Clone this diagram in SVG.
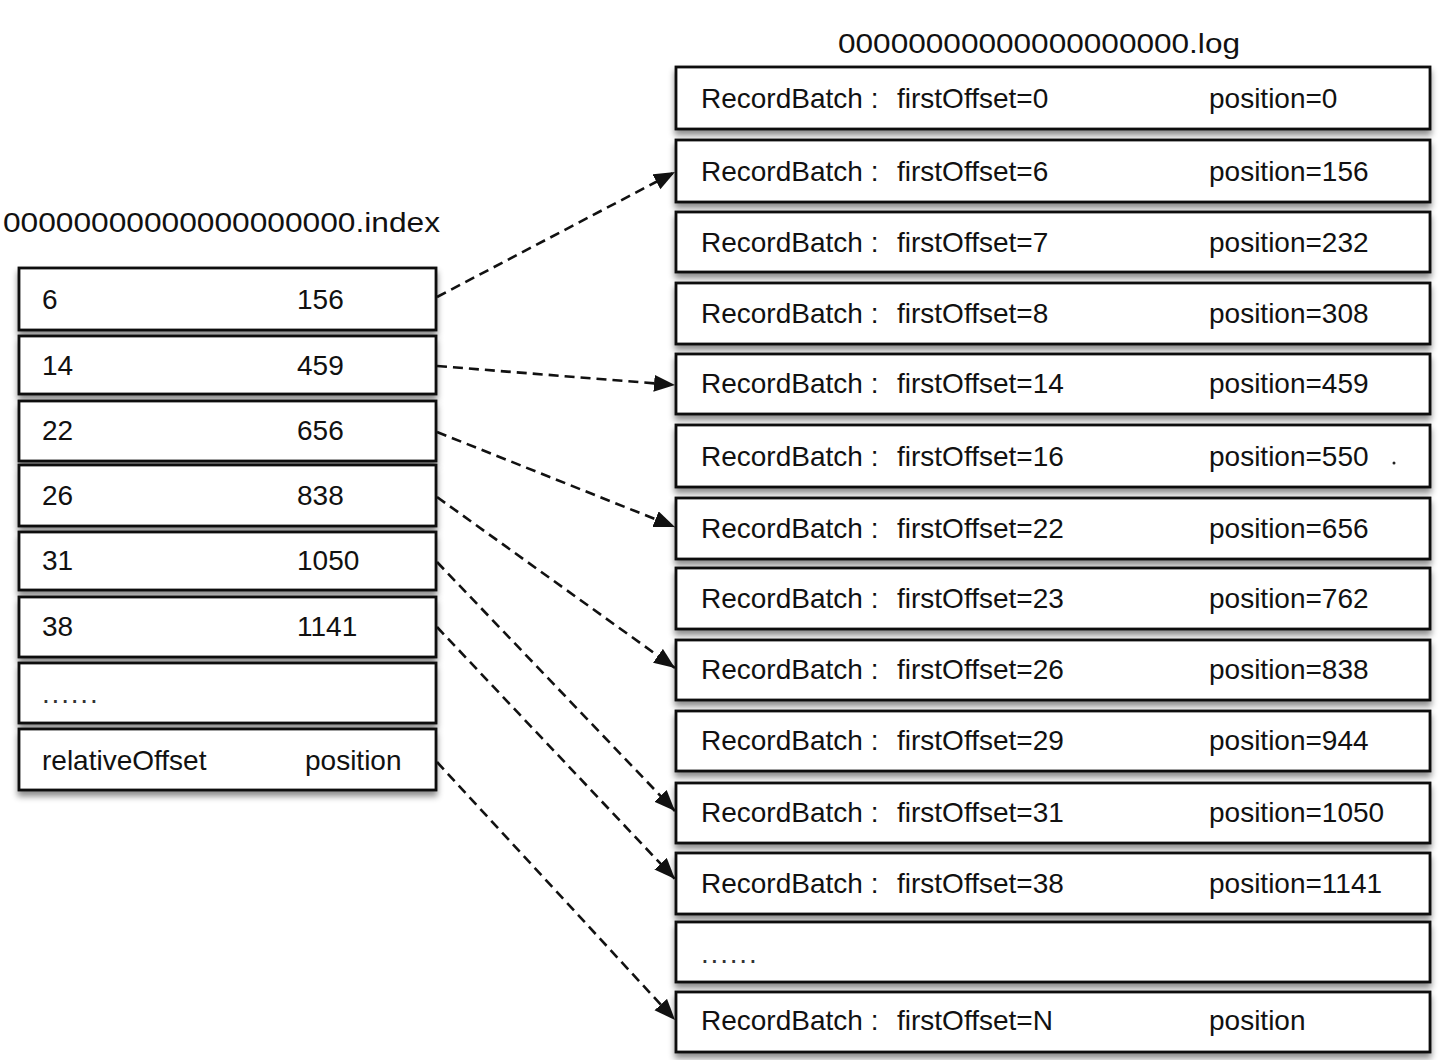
<svg xmlns="http://www.w3.org/2000/svg" width="1441" height="1060" viewBox="0 0 1441 1060">
<style>
text{font-family:"Liberation Sans",Arial,Helvetica,sans-serif;fill:#111}
.t{font-size:28px}
.r{font-size:28px}
.dots{font-size:28px;letter-spacing:1.8px;fill:#333}
.box{fill:#fff;stroke:#111;stroke-width:2.8;filter:url(#sh)}
.conn{fill:none;stroke:#111;stroke-width:2.6;stroke-dasharray:10 6;marker-end:url(#ah)}
</style>
<defs>
<filter id="sh" x="-5%" y="-20%" width="110%" height="150%">
<feDropShadow dx="0" dy="5" stdDeviation="3" flood-color="#000" flood-opacity="0.45"/>
</filter>
<marker id="ah" markerUnits="userSpaceOnUse" markerWidth="24" markerHeight="20" refX="21" refY="8.5" orient="auto">
<path d="M0,0 L21,8.5 L0,17 Z" fill="#111"/>
</marker>
</defs>
<rect width="1441" height="1060" fill="#fff"/>

<text class="t" x="3" y="232" textLength="437" lengthAdjust="spacingAndGlyphs">00000000000000000000.index</text>
<text class="t" x="838" y="53" textLength="402" lengthAdjust="spacingAndGlyphs">00000000000000000000.log</text>

<g id="index">
<g id="i1"><rect class="box" x="19" y="268" width="417" height="62"/><text class="r" x="42" y="309">6</text><text class="r" x="297" y="309">156</text></g>
<g id="i2"><rect class="box" x="19" y="336" width="417" height="58"/><text class="r" x="42" y="375">14</text><text class="r" x="297" y="375">459</text></g>
<g id="i3"><rect class="box" x="19" y="401" width="417" height="60"/><text class="r" x="42" y="440">22</text><text class="r" x="297" y="440">656</text></g>
<g id="i4"><rect class="box" x="19" y="465" width="417" height="61"/><text class="r" x="42" y="505">26</text><text class="r" x="297" y="505">838</text></g>
<g id="i5"><rect class="box" x="19" y="532" width="417" height="58"/><text class="r" x="42" y="570">31</text><text class="r" x="297" y="570">1050</text></g>
<g id="i6"><rect class="box" x="19" y="597" width="417" height="60"/><text class="r" x="42" y="636">38</text><text class="r" x="297" y="636">1141</text></g>
<g id="i7"><rect class="box" x="19" y="663" width="417" height="60"/><text class="dots" x="42" y="703">......</text></g>
<g id="i8"><rect class="box" x="19" y="729" width="417" height="61"/><text class="r" x="42" y="770">relativeOffset</text><text class="r" x="305" y="770">position</text></g>
</g>

<g id="log">
<g id="l1"><rect class="box" x="676" y="67" width="754" height="62"/><text class="r" y="108"><tspan x="701">RecordBatch :</tspan><tspan x="897">firstOffset=0</tspan><tspan x="1209">position=0</tspan></text></g>
<g id="l2"><rect class="box" x="676" y="140" width="754" height="62"/><text class="r" y="181"><tspan x="701">RecordBatch :</tspan><tspan x="897">firstOffset=6</tspan><tspan x="1209">position=156</tspan></text></g>
<g id="l3"><rect class="box" x="676" y="212" width="754" height="60"/><text class="r" y="252"><tspan x="701">RecordBatch :</tspan><tspan x="897">firstOffset=7</tspan><tspan x="1209">position=232</tspan></text></g>
<g id="l4"><rect class="box" x="676" y="283" width="754" height="61"/><text class="r" y="323"><tspan x="701">RecordBatch :</tspan><tspan x="897">firstOffset=8</tspan><tspan x="1209">position=308</tspan></text></g>
<g id="l5"><rect class="box" x="676" y="354" width="754" height="60"/><text class="r" y="393"><tspan x="701">RecordBatch :</tspan><tspan x="897">firstOffset=14</tspan><tspan x="1209">position=459</tspan></text></g>
<g id="l6"><rect class="box" x="676" y="425" width="754" height="62"/><text class="r" y="466"><tspan x="701">RecordBatch :</tspan><tspan x="897">firstOffset=16</tspan><tspan x="1209">position=550</tspan></text><circle cx="1394" cy="463" r="1.5" fill="#222"/></g>
<g id="l7"><rect class="box" x="676" y="498" width="754" height="61"/><text class="r" y="538"><tspan x="701">RecordBatch :</tspan><tspan x="897">firstOffset=22</tspan><tspan x="1209">position=656</tspan></text></g>
<g id="l8"><rect class="box" x="676" y="568" width="754" height="61"/><text class="r" y="608"><tspan x="701">RecordBatch :</tspan><tspan x="897">firstOffset=23</tspan><tspan x="1209">position=762</tspan></text></g>
<g id="l9"><rect class="box" x="676" y="640" width="754" height="60"/><text class="r" y="679"><tspan x="701">RecordBatch :</tspan><tspan x="897">firstOffset=26</tspan><tspan x="1209">position=838</tspan></text></g>
<g id="l10"><rect class="box" x="676" y="711" width="754" height="60"/><text class="r" y="750"><tspan x="701">RecordBatch :</tspan><tspan x="897">firstOffset=29</tspan><tspan x="1209">position=944</tspan></text></g>
<g id="l11"><rect class="box" x="676" y="783" width="754" height="60"/><text class="r" y="822"><tspan x="701">RecordBatch :</tspan><tspan x="897">firstOffset=31</tspan><tspan x="1209">position=1050</tspan></text></g>
<g id="l12"><rect class="box" x="676" y="853" width="754" height="61"/><text class="r" y="893"><tspan x="701">RecordBatch :</tspan><tspan x="897">firstOffset=38</tspan><tspan x="1209">position=1141</tspan></text></g>
<g id="l13"><rect class="box" x="676" y="922" width="754" height="60"/><text class="dots" x="701" y="963">......</text></g>
<g id="l14"><rect class="box" x="676" y="992" width="754" height="60"/><text class="r" y="1030"><tspan x="701">RecordBatch :</tspan><tspan x="897">firstOffset=N</tspan><tspan x="1209">position</tspan></text></g>
</g>

<g id="connectors">
<path class="conn" d="M437,297 L675,172"/>
<path class="conn" d="M437,366 L675,385"/>
<path class="conn" d="M437,432 L675,527"/>
<path class="conn" d="M437,497 L675,668"/>
<path class="conn" d="M437,562 L675,811"/>
<path class="conn" d="M437,627 L675,879"/>
<path class="conn" d="M437,762 L675,1020"/>
</g>
</svg>
